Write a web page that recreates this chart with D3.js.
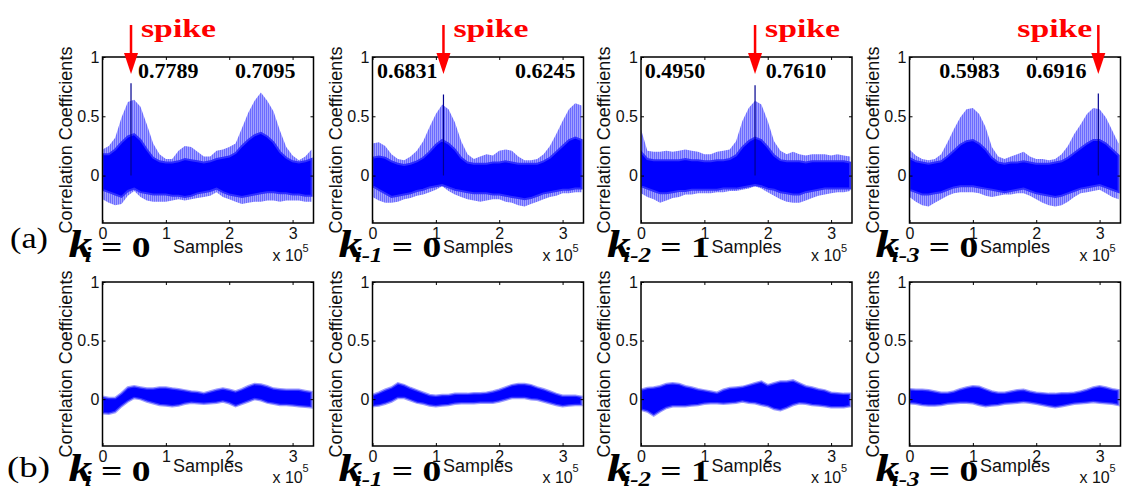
<!DOCTYPE html>
<html>
<head>
<meta charset="utf-8">
<script src="https://cdn.jsdelivr.net/npm/d3@7"></script>
<style>
  body { margin: 0; background: #fff; }
  svg { display: block; }
</style>
</head>
<body>
<div id="chart"></div>
<script>
// sample positions (x 10^5)
const sampleGrid = [0, 0.1, 0.2, 0.3, 0.4, 0.5, 0.6, 0.7, 0.8, 0.9, 1.0, 1.1, 1.2, 1.3, 1.4, 1.5, 1.6,
  1.7, 1.8, 1.9, 2.0, 2.1, 2.2, 2.3, 2.4, 2.5, 2.6, 2.7, 2.8, 2.9, 3.0, 3.1, 3.2, 3.3]

const keySubscripts = ['i', 'i-1', 'i-2', 'i-3']
const keyValues = ['0', '0', '1', '0']
const rowLabels = ['(a)', '(b)']

// spike location (x 10^5) and its height, row (a)
const spikeSample = [0.45, 1.12, 1.80, 2.98]
const spikePeak = [0.7789, 0.6831, 0.7610, 0.6916]
const peakValues = [[0.7789, 0.7095], [0.6831, 0.6245], [0.4950, 0.7610], [0.5983, 0.6916]]

// row (a): upper/lower envelope of all traces and of the dense core
const topUpperEnv = [
  [.22,.25,.32,.49,.62,.64,.58,.43,.27,.18,.14,.14,.21,.25,.24,.20,.16,.16,.21,.22,.24,.27,.40,.53,.63,.70,.63,.54,.38,.24,.17,.13,.16,.22],
  [.27,.28,.25,.18,.14,.13,.16,.21,.29,.41,.52,.60,.56,.45,.29,.18,.14,.16,.18,.17,.21,.22,.21,.16,.13,.13,.14,.18,.25,.35,.46,.56,.61,.59],
  [.39,.21,.20,.20,.21,.20,.21,.22,.21,.20,.18,.18,.20,.21,.22,.29,.46,.57,.63,.60,.46,.29,.21,.18,.20,.18,.17,.18,.18,.18,.17,.18,.17,.16],
  [.22,.17,.14,.13,.14,.18,.28,.39,.49,.56,.57,.52,.41,.24,.16,.14,.16,.18,.20,.16,.14,.14,.13,.14,.18,.25,.35,.43,.52,.57,.56,.49,.38,.27]
]
const topUpperCore = [
  [.18,.18,.22,.28,.33,.35,.30,.22,.15,.12,.11,.11,.12,.14,.13,.12,.11,.12,.14,.15,.16,.19,.25,.30,.34,.36,.33,.28,.20,.15,.12,.11,.12,.14],
  [.15,.16,.15,.12,.10,.09,.10,.12,.15,.20,.26,.30,.27,.22,.15,.11,.10,.10,.10,.11,.11,.12,.11,.10,.10,.10,.10,.12,.15,.20,.25,.30,.32,.30],
  [.20,.14,.13,.13,.13,.13,.13,.14,.13,.13,.12,.12,.13,.13,.14,.17,.24,.29,.32,.30,.24,.17,.13,.12,.12,.12,.11,.12,.12,.12,.12,.12,.12,.11],
  [.15,.12,.11,.10,.11,.12,.16,.21,.26,.29,.30,.27,.22,.15,.11,.10,.11,.11,.12,.11,.10,.10,.10,.11,.12,.15,.19,.23,.27,.30,.30,.27,.22,.17]
]
const topLowerCore = [
  [-.12,-.14,-.16,-.18,-.13,-.11,-.14,-.15,-.16,-.16,-.16,-.17,-.17,-.18,-.17,-.15,-.14,-.13,-.11,-.14,-.16,-.17,-.18,-.17,-.16,-.15,-.14,-.14,-.15,-.15,-.16,-.16,-.17,-.17],
  [-.09,-.12,-.15,-.18,-.17,-.16,-.15,-.13,-.12,-.10,-.09,-.08,-.10,-.12,-.13,-.14,-.15,-.15,-.15,-.16,-.16,-.17,-.18,-.19,-.20,-.19,-.17,-.15,-.14,-.13,-.12,-.12,-.11,-.11],
  [-.09,-.11,-.13,-.15,-.15,-.14,-.13,-.13,-.12,-.12,-.12,-.12,-.12,-.11,-.11,-.11,-.10,-.09,-.08,-.09,-.11,-.12,-.14,-.15,-.16,-.16,-.14,-.13,-.12,-.11,-.11,-.11,-.11,-.11],
  [-.12,-.14,-.16,-.16,-.15,-.14,-.12,-.10,-.09,-.09,-.09,-.10,-.11,-.12,-.13,-.14,-.13,-.12,-.11,-.13,-.15,-.16,-.17,-.18,-.17,-.15,-.13,-.11,-.10,-.09,-.08,-.10,-.12,-.14]
]
const topLowerEnv = [
  [-.20,-.23,-.25,-.24,-.17,-.13,-.18,-.21,-.22,-.22,-.22,-.21,-.20,-.21,-.20,-.19,-.18,-.17,-.14,-.18,-.20,-.22,-.24,-.23,-.22,-.22,-.21,-.21,-.22,-.21,-.21,-.21,-.22,-.22],
  [-.18,-.21,-.23,-.23,-.22,-.20,-.19,-.17,-.16,-.14,-.12,-.09,-.13,-.16,-.18,-.20,-.21,-.22,-.21,-.20,-.20,-.22,-.23,-.25,-.26,-.24,-.22,-.20,-.18,-.17,-.15,-.15,-.14,-.14],
  [-.15,-.18,-.20,-.23,-.21,-.19,-.18,-.16,-.16,-.15,-.15,-.15,-.14,-.14,-.13,-.13,-.12,-.11,-.09,-.11,-.14,-.17,-.20,-.22,-.23,-.23,-.21,-.19,-.17,-.16,-.15,-.14,-.14,-.13],
  [-.18,-.22,-.25,-.26,-.23,-.20,-.17,-.15,-.14,-.14,-.14,-.15,-.17,-.18,-.17,-.16,-.16,-.15,-.15,-.17,-.20,-.23,-.25,-.26,-.25,-.22,-.18,-.15,-.14,-.13,-.12,-.15,-.18,-.20]
]

// row (b): band of all traces
const bottomUpper = [
  [.02,.01,.01,.05,.10,.11,.10,.09,.09,.10,.10,.09,.085,.075,.065,.06,.05,.065,.08,.09,.08,.065,.085,.11,.13,.125,.11,.09,.085,.08,.08,.08,.07,.06],
  [.035,.055,.08,.10,.135,.12,.095,.075,.055,.035,.03,.035,.035,.045,.045,.045,.05,.05,.055,.065,.08,.10,.12,.13,.13,.12,.10,.085,.065,.045,.03,.03,.03,.02],
  [.08,.095,.10,.11,.13,.135,.13,.11,.10,.085,.075,.065,.055,.08,.095,.10,.105,.12,.135,.15,.12,.135,.15,.15,.16,.135,.11,.10,.085,.075,.055,.05,.045,.045],
  [.085,.08,.08,.075,.065,.055,.055,.065,.085,.10,.11,.105,.085,.065,.055,.055,.065,.075,.08,.065,.055,.05,.045,.045,.05,.05,.055,.065,.08,.10,.11,.10,.085,.075]
]
const bottomLower = [
  [-.12,-.125,-.11,-.06,-.02,.01,0,-.02,-.035,-.05,-.055,-.06,-.055,-.04,-.03,-.035,-.04,-.035,-.03,-.02,-.035,-.06,-.04,-.02,0,-.01,-.03,-.04,-.05,-.05,-.055,-.06,-.065,-.07],
  [-.06,-.055,-.04,-.02,.01,.01,-.01,-.03,-.04,-.055,-.06,-.055,-.05,-.04,-.035,-.035,-.035,-.03,-.03,-.03,-.02,-.005,.01,.01,.01,0,-.005,-.02,-.035,-.05,-.06,-.055,-.05,-.05],
  [-.09,-.105,-.14,-.105,-.075,-.06,-.06,-.06,-.055,-.05,-.04,-.035,-.035,-.04,-.035,-.03,-.02,-.03,-.035,-.05,-.06,-.085,-.095,-.075,-.05,-.035,-.04,-.05,-.055,-.06,-.07,-.07,-.07,-.06],
  [-.035,-.04,-.05,-.055,-.055,-.05,-.04,-.035,-.03,-.03,-.035,-.05,-.06,-.055,-.05,-.04,-.035,-.03,-.025,-.03,-.04,-.05,-.06,-.07,-.06,-.05,-.04,-.035,-.03,-.025,-.03,-.035,-.04,-.05]
]

const xTicks = [0, 1, 2, 3]
const yTicks = [0, 0.5, 1]

// ---- layout ----
const width = 1123, height = 490
const panelLeft = [102.5, 372.5, 641, 909.5]
const panelWidth = 211
const rows = [
  { top: 57, bottom: 223, kY: 257, labelY: 248, samplesY: 253, expY: 261, supY: 252 },
  { top: 282, bottom: 446, kY: 481, labelY: 477, samplesY: 472, expY: 483, supY: 472 }
]
const peakLabelAt = [[0.56, 2.09], [0.07, 2.25], [0.06, 1.97], [0.47, 1.84]]
const spikeTextLeft = [true, true, true, false]

const serif = "'Liberation Serif', 'Times New Roman', Times, serif"
const sans = "'Liberation Sans', Arial, Helvetica, sans-serif"

const svg = d3.select('#chart').append('svg')
  .attr('width', width).attr('height', height)

const defs = svg.append('defs')
const pat = defs.append('pattern').attr('id', 'streak')
  .attr('width', 2).attr('height', 8).attr('patternUnits', 'userSpaceOnUse')
pat.append('rect').attr('width', 2).attr('height', 8).attr('fill', '#a2a2ff')
pat.append('rect').attr('width', 1).attr('height', 8).attr('fill', '#6c6cff')

rows.forEach((row, r) => {
  // row letter
  svg.append('text')
    .attr('x', r === 0 ? 10 : 7).attr('y', row.labelY)
    .attr('textLength', r === 0 ? 38 : 43).attr('lengthAdjust', 'spacingAndGlyphs')
    .style('font-family', serif).style('font-size', '30px')
    .text(rowLabels[r])

  panelLeft.forEach((left, i) => {
    const x = d3.scaleLinear().domain([0, 3.33]).range([left, left + panelWidth])
    const y = d3.scaleLinear().domain([-0.4, 1]).range([row.bottom, row.top])
    const g = svg.append('g')

    const clipId = 'clip-' + r + '-' + i
    defs.append('clipPath').attr('id', clipId).append('rect')
      .attr('x', left).attr('y', row.top).attr('width', panelWidth).attr('height', row.bottom - row.top)
    const plot = g.append('g').attr('clip-path', 'url(#' + clipId + ')')

    if (r === 0) {
      const outer = d3.area()
        .x((d, j) => x(sampleGrid[j]))
        .y0((d, j) => y(topLowerEnv[i][j]))
        .y1((d, j) => y(topUpperEnv[i][j]))
      const core = d3.area()
        .x((d, j) => x(sampleGrid[j]))
        .y0((d, j) => y(topLowerCore[i][j]))
        .y1((d, j) => y(topUpperCore[i][j]))
      plot.append('path').attr('d', outer(sampleGrid)).attr('fill', 'url(#streak)')
      plot.append('path').attr('d', core(sampleGrid)).attr('fill', '#0000ff')
        .attr('stroke', '#3030ff').attr('stroke-width', 2)
      // spike
      plot.append('line')
        .attr('x1', x(spikeSample[i])).attr('x2', x(spikeSample[i]))
        .attr('y1', y(0)).attr('y2', y(spikePeak[i]))
        .attr('stroke', '#000090').attr('stroke-width', 1.2)
    } else {
      const band = d3.area()
        .x((d, j) => x(sampleGrid[j]))
        .y0((d, j) => y(bottomLower[i][j]))
        .y1((d, j) => y(bottomUpper[i][j]))
      plot.append('path').attr('d', band(sampleGrid)).attr('fill', '#0000ff')
        .attr('stroke', '#5a5aff').attr('stroke-width', 2.5).attr('stroke-opacity', 0.6)
    }

    // axes (MATLAB style, inward ticks)
    const axStyle = sel => {
      sel.select('.domain').remove()
      sel.selectAll('line').attr('stroke', '#000')
      sel.selectAll('text').style('font-family', sans).style('font-size', '16px').attr('fill', '#111')
    }
    g.append('g').attr('transform', 'translate(0,' + row.bottom + ')')
      .call(d3.axisBottom(x).tickValues(xTicks).tickSize(-3).tickPadding(5).tickFormat(d3.format('d')))
      .call(axStyle)
    g.append('g').attr('transform', 'translate(0,' + row.top + ')')
      .call(d3.axisTop(x).tickValues(xTicks).tickSize(-3).tickFormat(''))
      .call(axStyle)
    g.append('g').attr('transform', 'translate(' + left + ',0)')
      .call(d3.axisLeft(y).tickValues(yTicks).tickSize(-3).tickPadding(3).tickFormat(d => d))
      .call(axStyle)
    g.append('g').attr('transform', 'translate(' + (left + panelWidth) + ',0)')
      .call(d3.axisRight(y).tickValues(yTicks).tickSize(-3).tickFormat(''))
      .call(axStyle)

    g.append('rect')
      .attr('x', left).attr('y', row.top)
      .attr('width', panelWidth).attr('height', row.bottom - row.top)
      .attr('fill', 'none').attr('stroke', '#000').attr('stroke-width', 1.5)

    // axis titles
    g.append('text')
      .attr('transform', 'translate(' + (left - 31) + ',' + ((row.top + row.bottom) / 2) + ') rotate(-90)')
      .attr('text-anchor', 'middle')
      .style('font-family', sans).style('font-size', '18px').attr('fill', '#111')
      .text('Correlation Coefficients')
    g.append('text')
      .attr('x', (left + left + panelWidth) / 2).attr('y', row.samplesY)
      .attr('text-anchor', 'middle')
      .style('font-family', sans).style('font-size', '18px').attr('fill', '#111')
      .text('Samples')
    g.append('text')
      .attr('x', left + panelWidth - 41).attr('y', row.expY)
      .style('font-family', sans).style('font-size', '16px').attr('fill', '#111')
      .text('x 10')
    g.append('text')
      .attr('x', left + panelWidth - 11).attr('y', row.supY)
      .style('font-family', sans).style('font-size', '11px').attr('fill', '#111')
      .text('5')

    // k label
    const kt = g.append('text')
      .attr('transform', 'translate(' + (left - 34) + ',' + row.kY + ') scale(1.25,1)')
      .style('font-family', serif).style('font-weight', 'bold').attr('fill', '#000')
    kt.append('tspan').style('font-size', '38px').style('font-style', 'italic').text('k')
    kt.append('tspan').style('font-size', '20px').style('font-style', 'italic')
      .attr('dx', -6).attr('dy', 5).text(keySubscripts[i])
    kt.append('tspan').style('font-size', '30px').attr('dy', -5)
      .text('\u00a0= ' + keyValues[i])

    if (r === 0) {
      // peak values
      peakValues[i].forEach((v, k) => {
        g.append('text')
          .attr('x', x(peakLabelAt[i][k])).attr('y', 78)
          .style('font-family', serif).style('font-weight', 'bold').style('font-size', '22px')
          .attr('fill', '#000')
          .text(d3.format('.4f')(v))
      })
      // spike arrow
      const sx = x(spikeSample[i])
      g.append('line').attr('x1', sx).attr('x2', sx).attr('y1', 25).attr('y2', 56)
        .attr('stroke', '#f00').attr('stroke-width', 2.5)
      g.append('path')
        .attr('d', 'M' + (sx - 7) + ',53L' + (sx + 7) + ',53L' + sx + ',74Z')
        .attr('fill', '#f00')
      g.append('text')
        .attr('x', spikeTextLeft[i] ? sx + 10 : sx - 6).attr('y', 37)
        .attr('text-anchor', spikeTextLeft[i] ? 'start' : 'end')
        .attr('textLength', 75).attr('lengthAdjust', 'spacingAndGlyphs')
        .style('font-family', serif).style('font-weight', 'bold').style('font-size', '25px')
        .attr('fill', '#f00')
        .text('spike')
    }
  })
})
</script>
</body>
</html>
